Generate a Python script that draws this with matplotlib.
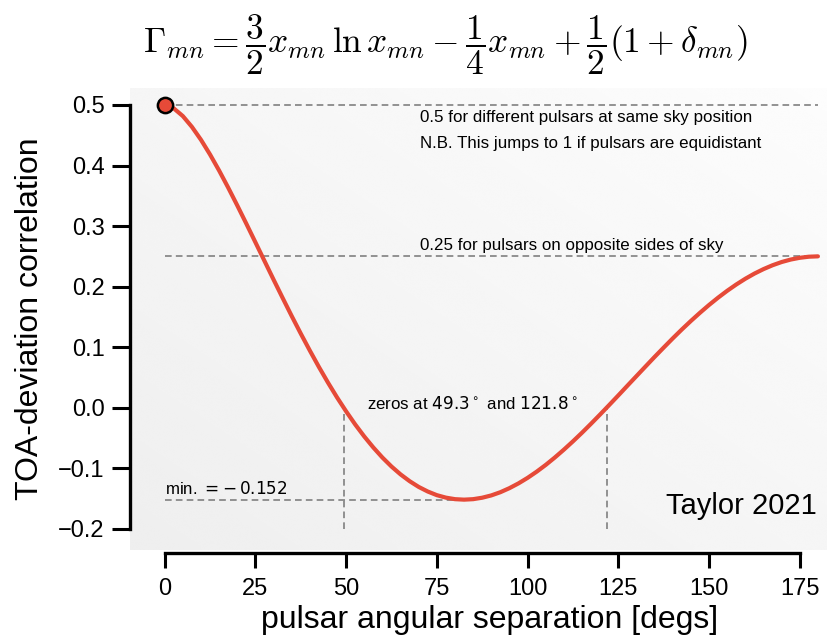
import matplotlib
matplotlib.use('Agg')
import matplotlib.pyplot as plt
import numpy as np

plt.rcParams['font.family'] = ['Liberation Sans', 'DejaVu Sans']

# angular separation [deg] and HD correlation
sep = [0, 2.5, 5, 7.5, 10, 12.5, 15, 17.5, 20, 22.5, 25, 27.5, 30, 32.5, 35,
       37.5, 40, 42.5, 45, 47.5, 50, 52.5, 55, 57.5, 60, 62.5, 65, 67.5, 70,
       72.5, 75, 77.5, 80, 82.5, 85, 87.5, 90, 92.5, 95, 97.5, 100, 102.5, 105,
       107.5, 110, 112.5, 115, 117.5, 120, 122.5, 125, 127.5, 130, 132.5, 135,
       137.5, 140, 142.5, 145, 147.5, 150, 152.5, 155, 157.5, 160, 162.5, 165,
       167.5, 170, 172.5, 175, 177.5, 180]
corr = [0.5, 0.4944, 0.4817, 0.4639, 0.4425, 0.4182, 0.3917, 0.3635, 0.3341,
        0.3039, 0.2732, 0.2424, 0.2116, 0.1813, 0.1514, 0.1224, 0.0943, 0.0672,
        0.0414, 0.0169, -0.0061, -0.0277, -0.0476, -0.0658, -0.0824, -0.0972,
        -0.1102, -0.1214, -0.1309, -0.1385, -0.1445, -0.1486, -0.1511, -0.1519,
        -0.1511, -0.1487, -0.1449, -0.1396, -0.1329, -0.1250, -0.1159, -0.1057,
        -0.0945, -0.0823, -0.0693, -0.0556, -0.0413, -0.0264, -0.0111, 0.0045,
        0.0203, 0.0363, 0.0522, 0.0681, 0.0839, 0.0993, 0.1145, 0.1292, 0.1433,
        0.1568, 0.1697, 0.1818, 0.1931, 0.2035, 0.2130, 0.2215, 0.2289, 0.2353,
        0.2406, 0.2447, 0.2476, 0.2494, 0.25]

xticks = [0, 25, 50, 75, 100, 125, 150, 175]
yticks = [-0.2, -0.1, 0.0, 0.1, 0.2, 0.3, 0.4, 0.5]
zeros = [49.3, 121.8]
min_val = -0.152
min_sep = 82.5

fig = plt.figure(figsize=(8.27, 6.38), dpi=100)
ax = fig.add_axes([0.157, 0.138, 0.843, 0.724])
ax.set_xlim(-9.6, 182.5)
ax.set_ylim(-0.235, 0.528)

# soft grey gradient background
gx, gy = np.meshgrid(np.linspace(0, 1, 200), np.linspace(0, 1, 200))
grad = 0.935 + 0.055 * (gx + gy) / 2
ax.imshow(grad, cmap='gray', vmin=0, vmax=1, origin='lower', extent=[0, 1, 0, 1],
          transform=ax.transAxes, aspect='auto', zorder=0, interpolation='bicubic')
ax.set_facecolor('#f2f2f2')

dash = dict(color='#808080', lw=1.2, ls=(0, (4, 2.5)), zorder=1)
ax.plot([0, 180], [0.5, 0.5], **dash)
ax.plot([0, 180], [0.25, 0.25], **dash)
ax.plot([0, min_sep], [min_val, min_val], **dash)
for z in zeros:
    ax.plot([z, z], [-0.2, 0.0], **dash)

ax.plot(sep, corr, color='#e64a38', lw=3, zorder=3, solid_capstyle='round',
        solid_joinstyle='round')
ax.plot([0], [0.5], 'o', ms=11, mfc='#e64a38', mec='black', mew=1.8, zorder=4)

fs = 12.2
ax.text(70.3, 0.479, '0.5 for different pulsars at same sky position', fontsize=fs,
        va='center')
ax.text(70.3, 0.437, 'N.B. This jumps to 1 if pulsars are equidistant', fontsize=fs,
        va='center')
ax.text(70.3, 0.268, '0.25 for pulsars on opposite sides of sky', fontsize=fs,
        va='center')
ax.text(55.8, 0.007, r'zeros at $49.3^\circ$ and $121.8^\circ$', fontsize=fs,
        va='center', math_fontfamily='dejavusans')
ax.text(0.2, -0.134, r'min. $= -\,0.152$', fontsize=fs, va='center',
        math_fontfamily='dejavusans')
ax.text(179.7, -0.162, 'Taylor 2021', fontsize=21, va='center', ha='right')

ax.set_xticks(xticks)
ax.set_yticks(yticks)
ax.set_yticklabels(['\u22120.2', '\u22120.1', '0.0', '0.1', '0.2', '0.3', '0.4', '0.5'])
ax.tick_params(axis='both', labelsize=17, width=2.2, direction='out')
ax.tick_params(axis='x', length=11, pad=7)
ax.tick_params(axis='y', length=13, pad=5)
for s in ['top', 'right']:
    ax.spines[s].set_visible(False)
ax.spines['left'].set_linewidth(2.4)
ax.spines['bottom'].set_linewidth(2.4)
ax.spines['left'].set_bounds(-0.2, 0.5)
ax.spines['bottom'].set_bounds(0, 175)
ax.spines['bottom'].set_position(('outward', 2))

ax.set_xlabel('pulsar angular separation [degs]', fontsize=23)
ax.xaxis.set_label_coords(0.516, -0.12)
ax.set_ylabel('TOA-deviation correlation', fontsize=23)
ax.yaxis.set_label_coords(-0.122, 0.5)

fig.text(0.538, 0.929,
         r'$\Gamma_{mn}=\dfrac{3}{2}x_{mn}\,\ln x_{mn}-\dfrac{1}{4}x_{mn}+\dfrac{1}{2}(1+\delta_{mn})$',
         fontsize=25.5, ha='center', va='center', math_fontfamily='cm')

fig.savefig('out.png', dpi=100)
